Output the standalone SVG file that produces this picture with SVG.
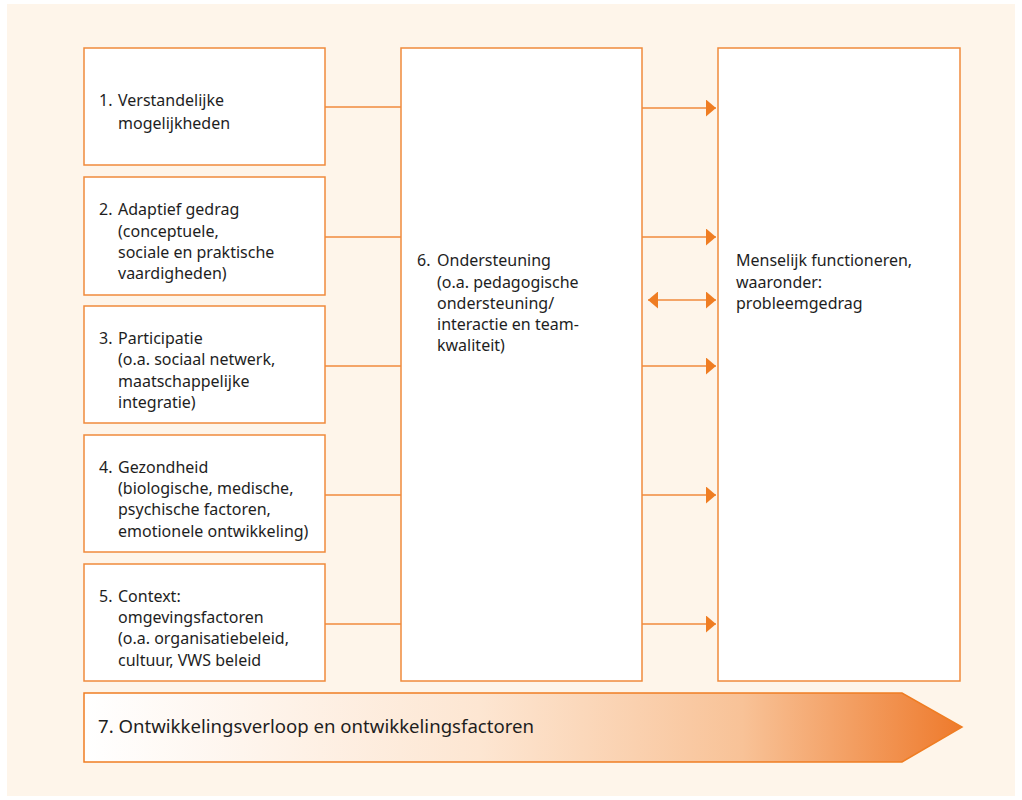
<svg xmlns="http://www.w3.org/2000/svg" width="1022" height="800" viewBox="0 0 1022 800">
<defs>
<style>
.box{fill:#fff;stroke:#f08a3c;stroke-width:1.5}
.ln{stroke:#f08a3c;stroke-width:1.5;fill:none}
.t{font-family:"Noto Sans","Open Sans",sans-serif;font-size:16px;fill:#1e1e1e}
.big{font-family:"Noto Sans","Open Sans",sans-serif;font-size:18.6px;fill:#1e1e1e}
</style>
<marker id="ah" viewBox="0 0 10 17" refX="10" refY="8.5" markerWidth="10" markerHeight="17" markerUnits="userSpaceOnUse" orient="auto-start-reverse">
<path d="M0,0 L10,8.5 L0,17 Z" fill="#ef7d23"/>
</marker>
<linearGradient id="g" x1="84" y1="0" x2="962" y2="0" gradientUnits="userSpaceOnUse">
<stop offset="0" stop-color="#ffffff"/>
<stop offset="0.45" stop-color="#fde6d2"/>
<stop offset="0.75" stop-color="#f8c297"/>
<stop offset="1" stop-color="#ee7a2c"/>
</linearGradient>
</defs>
<rect x="0" y="0" width="1022" height="800" fill="#ffffff"/>
<rect x="7" y="4" width="1008" height="792" fill="#fef5ea"/>
<g id="connectors">
<line class="ln" x1="325" y1="107" x2="401" y2="107"/>
<line class="ln" x1="325" y1="237" x2="401" y2="237"/>
<line class="ln" x1="325" y1="366" x2="401" y2="366"/>
<line class="ln" x1="325" y1="495" x2="401" y2="495"/>
<line class="ln" x1="325" y1="624" x2="401" y2="624"/>
<line class="ln" x1="642" y1="108" x2="716" y2="108" marker-end="url(#ah)"/>
<line class="ln" x1="642" y1="237" x2="716" y2="237" marker-end="url(#ah)"/>
<line class="ln" x1="648" y1="300" x2="716" y2="300" marker-start="url(#ah)" marker-end="url(#ah)"/>
<line class="ln" x1="642" y1="366" x2="716" y2="366" marker-end="url(#ah)"/>
<line class="ln" x1="642" y1="495" x2="716" y2="495" marker-end="url(#ah)"/>
<line class="ln" x1="642" y1="624" x2="716" y2="624" marker-end="url(#ah)"/>
</g>
<g id="n1">
<rect class="box" x="84" y="48" width="241" height="117"/>
<text class="t" x="99" y="106">1.</text>
<text class="t" x="118" y="106">Verstandelijke</text>
<text class="t" x="118" y="129">mogelijkheden</text>
</g>
<g id="n2">
<rect class="box" x="84" y="177" width="241" height="118"/>
<text class="t" x="99" y="215">2.</text>
<text class="t" x="118" y="215">Adaptief gedrag</text>
<text class="t" x="118" y="237">(conceptuele,</text>
<text class="t" x="118" y="258">sociale en praktische</text>
<text class="t" x="118" y="279">vaardigheden)</text>
</g>
<g id="n3">
<rect class="box" x="84" y="306" width="241" height="117"/>
<text class="t" x="99" y="344">3.</text>
<text class="t" x="118" y="344">Participatie</text>
<text class="t" x="118" y="365">(o.a. sociaal netwerk,</text>
<text class="t" x="118" y="387">maatschappelijke</text>
<text class="t" x="118" y="408">integratie)</text>
</g>
<g id="n4">
<rect class="box" x="84" y="435" width="241" height="117"/>
<text class="t" x="99" y="473">4.</text>
<text class="t" x="118" y="473">Gezondheid</text>
<text class="t" x="118" y="494">(biologische, medische,</text>
<text class="t" x="118" y="515">psychische factoren,</text>
<text class="t" x="118" y="537">emotionele ontwikkeling)</text>
</g>
<g id="n5">
<rect class="box" x="84" y="564" width="241" height="117"/>
<text class="t" x="99" y="602">5.</text>
<text class="t" x="118" y="602">Context:</text>
<text class="t" x="118" y="623">omgevingsfactoren</text>
<text class="t" x="118" y="644">(o.a. organisatiebeleid,</text>
<text class="t" x="118" y="666">cultuur, VWS beleid</text>
</g>
<g id="n6">
<rect class="box" x="401" y="48" width="241" height="633"/>
<text class="t" x="417" y="266">6.</text>
<text class="t" x="437" y="266">Ondersteuning</text>
<text class="t" x="437" y="288">(o.a. pedagogische</text>
<text class="t" x="437" y="309">ondersteuning/</text>
<text class="t" x="437" y="330">interactie en team-</text>
<text class="t" x="437" y="351">kwaliteit)</text>
</g>
<g id="n8">
<rect class="box" x="718" y="48" width="242" height="633"/>
<text class="t" x="736" y="266">Menselijk functioneren,</text>
<text class="t" x="736" y="288">waaronder:</text>
<text class="t" x="736" y="309">probleemgedrag</text>
</g>
<g id="n7">
<path d="M84,693 L902,693 L962,727 L902,762 L84,762 Z" fill="url(#g)" stroke="#ef7d23" stroke-width="1.5"/>
<text class="big" x="98" y="733">7. Ontwikkelingsverloop en ontwikkelingsfactoren</text>
</g>
</svg>
